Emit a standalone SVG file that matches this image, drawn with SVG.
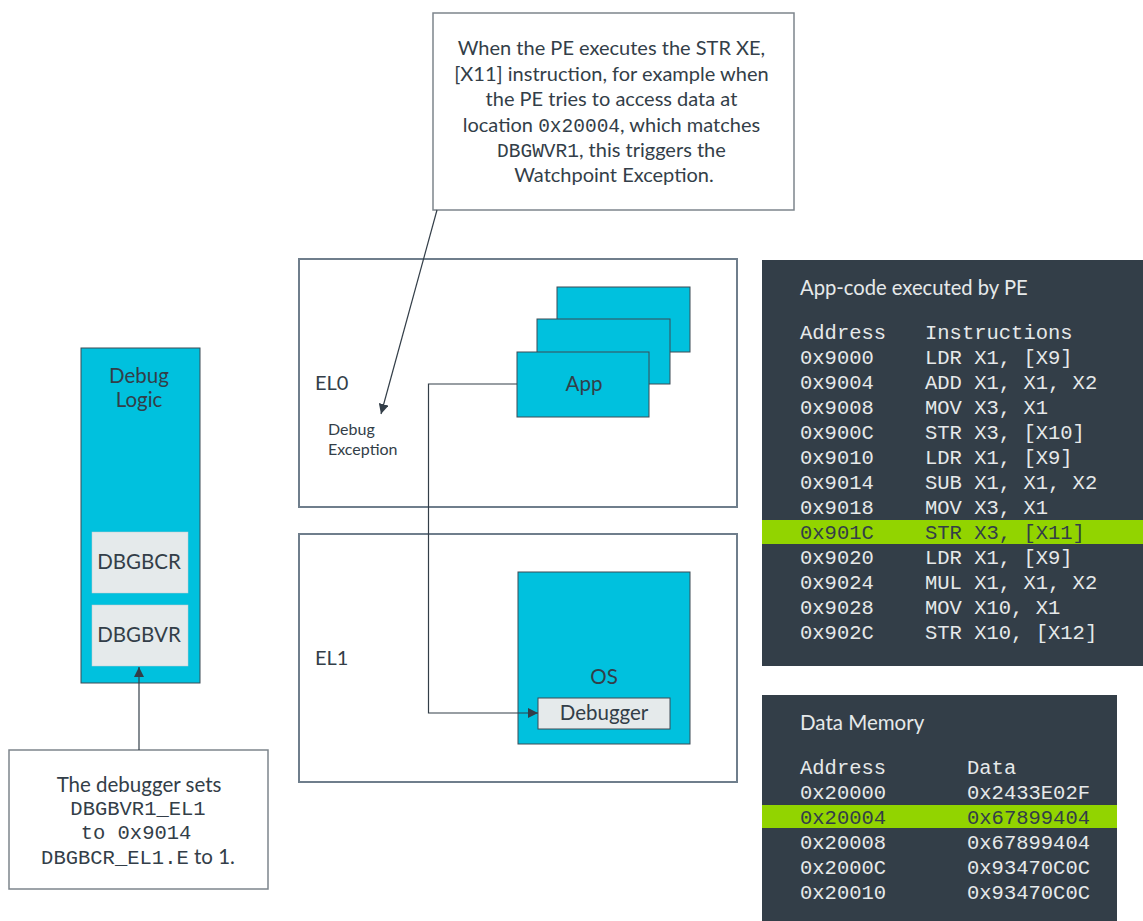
<svg xmlns="http://www.w3.org/2000/svg" width="1143" height="921" viewBox="0 0 1143 921">
<defs>
<marker id="ah" viewBox="0 0 10 10" refX="10" refY="5" markerWidth="10" markerHeight="10" markerUnits="userSpaceOnUse" orient="auto">
<path d="M0,0 L10,5 L0,10 z" fill="#333e48"/>
</marker>
<style>
.t{font-family:Lato,"Liberation Sans",sans-serif;fill:#333e48}
.m{font-family:"Liberation Mono","Courier New",monospace;font-size:20.5px}
.box{fill:#fff;stroke:#7d858c;stroke-width:1.5}
.el{fill:#fff;stroke:#6f7e8c;stroke-width:2}
.cy{fill:#00c1de;stroke:#3d4a55;stroke-width:1}
.lg{fill:#e5eaeb;stroke:#c5ccd0;stroke-width:0.5}
.dk{fill:#333e48}
.lt{fill:#e6e9ea}
.gr{fill:#92d400}
.ln{fill:none;stroke:#333e48;stroke-width:1.2}
</style>
</defs>
<rect width="1143" height="921" fill="#fff"/>

<g id="callout">
<rect class="box" x="433" y="13" width="361" height="197"/>
<text class="t" font-size="20" text-anchor="middle">
<tspan x="614" y="55">When the PE executes the STR XE,</tspan>
<tspan x="614" y="80.5">[X11] instruction, for example when</tspan>
<tspan x="614" y="106">the PE tries to access data at</tspan>
<tspan x="614" y="131.5">location <tspan font-family="Liberation Mono,monospace" font-size="19.5">0x20004</tspan>, which matches</tspan>
<tspan x="614" y="157"><tspan font-family="Liberation Mono,monospace" font-size="19.5">DBGWVR1</tspan>, this triggers the</tspan>
<tspan x="614" y="182">Watchpoint Exception.</tspan>
</text>
</g>

<g id="el0">
<rect class="el" x="299" y="259" width="438" height="248"/>
<text class="t" x="315" y="390" font-size="20">EL0</text>
<text class="t" x="328" y="435" font-size="16">Debug</text>
<text class="t" x="328" y="455" font-size="16">Exception</text>
</g>

<g id="el1">
<rect class="el" x="299" y="534" width="438" height="248"/>
<text class="t" x="315" y="665" font-size="20">EL1</text>
</g>

<g id="app">
<rect class="cy" x="557" y="287" width="133" height="65"/>
<rect class="cy" x="537" y="319" width="133" height="65"/>
<rect class="cy" x="517" y="352" width="132" height="65"/>
<text class="t" x="584" y="391" font-size="20.5" text-anchor="middle">App</text>
</g>

<g id="os">
<rect class="cy" x="518" y="572" width="172" height="172"/>
<text class="t" x="604" y="684" font-size="20.5" text-anchor="middle">OS</text>
</g>

<g id="debugger">
<rect x="538" y="698" width="132" height="31" fill="#e5eaeb" stroke="#3d4a55" stroke-width="1"/>
<text class="t" x="604" y="720" font-size="20.5" text-anchor="middle">Debugger</text>
</g>

<g id="debug-logic">
<rect class="cy" x="81" y="348" width="119" height="335"/>
<text class="t" x="139" y="383" font-size="20.5" text-anchor="middle">Debug</text>
<text class="t" x="139" y="407" font-size="20.5" text-anchor="middle">Logic</text>
</g>
<g id="dbgbcr">
<rect class="lg" x="92" y="532" width="96" height="61"/>
<text class="t" x="139" y="569" font-size="20.5" text-anchor="middle">DBGBCR</text>
</g>
<g id="dbgbvr">
<rect class="lg" x="92" y="605" width="96" height="61"/>
<text class="t" x="139" y="642" font-size="20.5" text-anchor="middle">DBGBVR</text>
</g>

<g id="setup-note">
<rect class="box" x="9" y="750" width="259" height="139"/>
<text class="t" x="139" y="792" font-size="20.5" text-anchor="middle">The debugger sets</text>
<text class="t m" x="138" y="815" text-anchor="middle">DBGBVR1_EL1</text>
<text class="t m" x="136" y="839" text-anchor="middle">to 0x9014</text>
<text class="t" x="138" y="864" font-size="20.5" text-anchor="middle"><tspan font-family="Liberation Mono,monospace" font-size="20.5">DBGBCR_EL1.E</tspan> to 1.</text>
</g>

<g id="app-code">
<rect class="dk" x="762" y="260" width="381" height="406"/>
<text class="t lt" x="800" y="295" font-size="20.2">App-code executed by PE</text>
<rect class="gr" x="762" y="520" width="381" height="24"/>
<g class="m lt">
<text x="800" y="339">Address</text><text x="925" y="339">Instructions</text>
<text x="800" y="364">0x9000</text><text x="925" y="364">LDR X1, [X9]</text>
<text x="800" y="389">0x9004</text><text x="925" y="389">ADD X1, X1, X2</text>
<text x="800" y="414">0x9008</text><text x="925" y="414">MOV X3, X1</text>
<text x="800" y="439">0x900C</text><text x="925" y="439">STR X3, [X10]</text>
<text x="800" y="464">0x9010</text><text x="925" y="464">LDR X1, [X9]</text>
<text x="800" y="489">0x9014</text><text x="925" y="489">SUB X1, X1, X2</text>
<text x="800" y="514">0x9018</text><text x="925" y="514">MOV X3, X1</text>
<text x="800" y="539" fill="#333e48">0x901C</text><text x="925" y="539" fill="#333e48">STR X3, [X11]</text>
<text x="800" y="564">0x9020</text><text x="925" y="564">LDR X1, [X9]</text>
<text x="800" y="589">0x9024</text><text x="925" y="589">MUL X1, X1, X2</text>
<text x="800" y="614">0x9028</text><text x="925" y="614">MOV X10, X1</text>
<text x="800" y="639">0x902C</text><text x="925" y="639">STR X10, [X12]</text>
</g>
</g>

<g id="data-memory">
<rect class="dk" x="762" y="695" width="355" height="226"/>
<text class="t lt" x="800" y="730" font-size="20.5">Data Memory</text>
<rect class="gr" x="762" y="805" width="355" height="23"/>
<g class="m lt">
<text x="800" y="774">Address</text><text x="967" y="774">Data</text>
<text x="800" y="799">0x20000</text><text x="967" y="799">0x2433E02F</text>
<text x="800" y="824" fill="#333e48">0x20004</text><text x="967" y="824" fill="#333e48">0x67899404</text>
<text x="800" y="849">0x20008</text><text x="967" y="849">0x67899404</text>
<text x="800" y="874">0x2000C</text><text x="967" y="874">0x93470C0C</text>
<text x="800" y="899">0x20010</text><text x="967" y="899">0x93470C0C</text>
</g>
</g>

<g id="connectors">
<path class="ln" d="M437,210 L381,414" marker-end="url(#ah)"/>
<path class="ln" d="M517,384 H428.5 V713 H538" marker-end="url(#ah)"/>
<path class="ln" d="M139,750 V667" marker-end="url(#ah)"/>
</g>
</svg>
